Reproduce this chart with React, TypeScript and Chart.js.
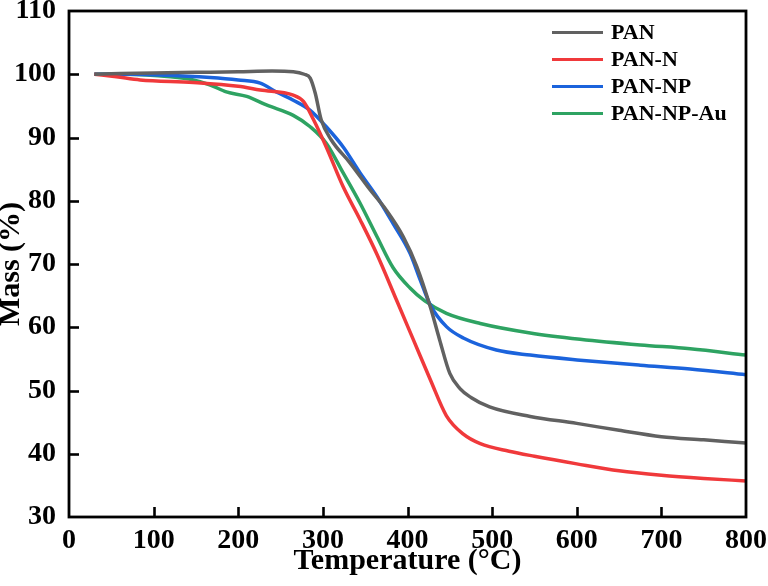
import { useEffect, useRef } from "react";
import { Chart, registerables } from "chart.js";

Chart.register(...registerables);

const seriesNames = ["PAN", "PAN-N", "PAN-NP", "PAN-NP-Au"];
const seriesColors = ["#616161", "#F0393B", "#1B63DC", "#2EA362"];

const panT = [30, 60, 100, 150, 200, 240, 265, 278, 285, 291, 298, 310, 332, 356, 375, 395, 411, 427, 438, 450, 462, 475, 497, 545, 600, 650, 700, 750, 800];
const panM = [100, 100.1, 100.2, 100.3, 100.4, 100.5, 100.4, 100.0, 99.4, 97.0, 92.8, 89.6, 86.0, 81.7, 78.5, 74.3, 69.6, 63.2, 58.0, 52.7, 50.3, 48.9, 47.4, 45.9, 44.8, 43.7, 42.7, 42.2, 41.7];

const panNT = [30, 56, 84, 147, 200, 226, 265, 277, 289, 304, 324, 344, 364, 387, 407, 427, 446, 466, 486, 520, 550, 600, 650, 700, 750, 800];
const panNM = [100, 99.6, 99.1, 98.7, 98.1, 97.5, 96.7, 95.7, 92.8, 88.5, 82.2, 77.0, 71.5, 64.3, 58.0, 51.7, 46.0, 43.1, 41.6, 40.4, 39.6, 38.4, 37.3, 36.6, 36.1, 35.7];

const panNPT = [30, 70, 107, 167, 200, 226, 245, 265, 285, 304, 324, 344, 364, 383, 403, 415, 427, 446, 466, 505, 545, 604, 675, 734, 800];
const panNPM = [100, 100, 99.9, 99.5, 99.1, 98.6, 97.2, 95.9, 94.3, 91.7, 88.5, 84.4, 80.6, 76.4, 71.7, 67.5, 63.5, 60.1, 58.3, 56.4, 55.6, 54.8, 54.0, 53.4, 52.5];

const panNPAuT = [30, 68, 120, 147, 167, 186, 210, 234, 265, 285, 304, 324, 344, 364, 383, 403, 420, 446, 486, 545, 604, 675, 734, 800];
const panNPAuM = [100, 100, 99.6, 99.1, 98.3, 97.2, 96.5, 95.1, 93.5, 91.7, 89.1, 84.4, 79.6, 74.3, 69.4, 66.2, 64.2, 62.2, 60.6, 59.1, 58.1, 57.2, 56.6, 55.6];

const xTitle = "Temperature (°C)";
const yTitle = "Mass (%)";

const FONT = "'Liberation Serif', 'Times New Roman', serif";

function pts(t: number[], m: number[]) {
  return t.map((x, i) => ({ x, y: m[i] }));
}

const framePlugin = {
  id: "frameTicks",
  afterDatasetsDraw(chart: any) {
    const { ctx, chartArea, scales } = chart;
    const { left, right, top, bottom } = chartArea;
    ctx.save();
    ctx.strokeStyle = "#000";
    ctx.lineWidth = 2.6;
    const tl = 10;
    scales.x.ticks.forEach((t: any) => {
      const px = Math.round(scales.x.getPixelForValue(t.value)) + 0.5;
      if (t.value === 0 || t.value === 800) return;
      ctx.beginPath();
      ctx.moveTo(px, bottom);
      ctx.lineTo(px, bottom - tl);
      ctx.stroke();
    });
    scales.y.ticks.forEach((t: any) => {
      const py = Math.round(scales.y.getPixelForValue(t.value)) + 0.5;
      if (t.value === 30 || t.value === 110) return;
      ctx.beginPath();
      ctx.moveTo(left, py);
      ctx.lineTo(left + tl, py);
      ctx.stroke();
    });
    ctx.lineWidth = 2.8;
    ctx.strokeRect(left, top, right - left, bottom - top);

    // legend
    const lx0 = 552;
    const lx1 = 603;
    const tx = 611;
    const y0 = 32.5;
    const dy = 27;
    ctx.font = `bold 22px ${FONT}`;
    ctx.textBaseline = "middle";
    ctx.textAlign = "left";
    chart.data.datasets.forEach((ds: any, i: number) => {
      const y = y0 + i * dy;
      ctx.strokeStyle = ds.borderColor;
      ctx.lineWidth = 3;
      ctx.beginPath();
      ctx.moveTo(lx0, y);
      ctx.lineTo(lx1, y);
      ctx.stroke();
      ctx.fillStyle = "#000";
      ctx.fillText(ds.label, tx, y + 1);
    });
    ctx.restore();
  },
};

function zeroPad(s: any) {
  s.paddingTop = 0;
  s.paddingBottom = 0;
  s.paddingLeft = 0;
  s.paddingRight = 0;
}

export default function App() {
  const ref = useRef<HTMLCanvasElement | null>(null);
  useEffect(() => {
    if (!ref.current) return;
    const series = [
      pts(panT, panM),
      pts(panNT, panNM),
      pts(panNPT, panNPM),
      pts(panNPAuT, panNPAuM),
    ];
    const chart = new Chart(ref.current, {
      type: "line",
      data: {
        datasets: series.map((d, i) => ({
          label: seriesNames[i],
          data: d,
          borderColor: seriesColors[i],
          backgroundColor: seriesColors[i],
          borderWidth: 3.5,
          pointRadius: 0,
          cubicInterpolationMode: "monotone" as const,
          fill: false,
        })),
      },
      options: {
        animation: false,
        responsive: true,
        maintainAspectRatio: false,
        layout: { padding: { top: 11, right: 22, left: 0, bottom: 0 } },
        plugins: {
          legend: { display: false },
          tooltip: { enabled: false },
        },
        scales: {
          x: {
            type: "linear",
            min: 0,
            max: 800,
            ticks: {
              stepSize: 100,
              color: "#000",
              padding: 7,
              font: { family: FONT, size: 28, weight: "bold" },
            },
            grid: { display: false, drawTicks: false },
            border: { display: false },
            title: {
              display: true,
              text: xTitle,
              color: "#000",
              padding: { top: 0, bottom: 7 },
              font: { family: FONT, size: 30, weight: "bold" },
            },
            afterFit: (s: any) => {
              s.height = 69;
              zeroPad(s);
            },
          },
          y: {
            type: "linear",
            min: 30,
            max: 110,
            ticks: {
              stepSize: 10,
              color: "#000",
              padding: 13,
              font: { family: FONT, size: 28, weight: "bold" },
            },
            grid: { display: false, drawTicks: false },
            border: { display: false },
            title: {
              display: true,
              text: yTitle,
              color: "#000",
              padding: { top: -7, bottom: 0 },
              font: { family: FONT, size: 30, weight: "bold" },
            },
            afterFit: (s: any) => {
              s.width = 69;
              zeroPad(s);
            },
          },
        },
      },
      plugins: [framePlugin],
    });
    return () => chart.destroy();
  }, []);
  return (
    <div style={{ position: "absolute", left: 0, top: 0, width: 768, height: 586, background: "#fff" }}>
      <canvas ref={ref} />
    </div>
  );
}
